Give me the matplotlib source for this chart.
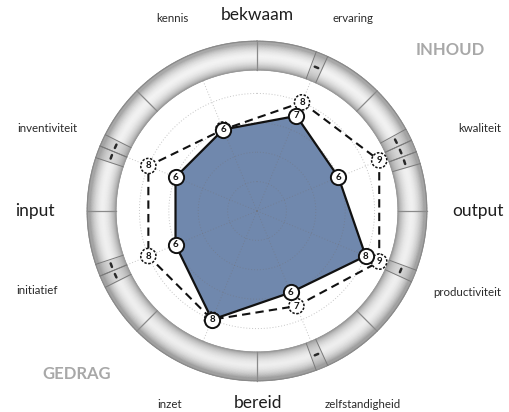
import numpy as np
import matplotlib.pyplot as plt

plt.rcParams["font.family"] = ["Lato", "DejaVu Sans"]

# criteria clockwise, starting just right of the top
criteria = ["ervaring", "kwaliteit", "productiviteit", "zelfstandigheid",
            "inzet", "initiatief", "inventiviteit", "kennis"]
actual = [7, 6, 8, 6, 8, 6, 6, 6]
target = [8, 9, 9, 7, 8, 8, 8, 6]
groups = ["bekwaam", "output", "bereid", "input"]
themes = ["INHOUD", "GEDRAG"]

W, H = 510, 412
fig = plt.figure(figsize=(W / 100, H / 100), dpi=100)

# polar axes centred on the ring (pixel geometry of the reference)
cx, cy, rpx, rmax = 257, 211, 176.4, 12
ax = fig.add_axes([(cx - rpx) / W, (H - cy - rpx) / H, 2 * rpx / W, 2 * rpx / H],
                  projection="polar")
ax.set_theta_zero_location("N")
ax.set_theta_direction(-1)
ax.set_ylim(0, rmax)
ax.axis("off")

n = len(criteria)
angles = np.deg2rad(22.5 + 45 * np.arange(n))
r_in, r_out = 9.6, 11.55

# grid: dotted circles and spokes
full = np.linspace(0, 2 * np.pi, 400)
for lev in [2, 4, 6, 8]:
    ax.plot(full, np.full_like(full, lev), color="#707070", alpha=0.4,
            lw=0.7, ls=(0, (1, 2)), zorder=3)
for a in angles:
    ax.plot([a, a], [0, r_in], color="#707070", alpha=0.4,
            lw=0.7, ls=(0, (1, 2)), zorder=3)

# ring with a tube-like gradient
tt = np.linspace(0, 2 * np.pi, 361)
rr = np.linspace(r_in, r_out, 40)
T, R = np.meshgrid(tt, rr)
f = (R - r_in) / (r_out - r_in)
shade = 0.66 + 0.29 * np.sin(np.pi * np.clip(f * 1.15 - 0.05, 0, 1)) ** 0.8
shade = shade - 0.04 * (1 - np.cos(T)) / 2 * f
ax.pcolormesh(T, R, shade, cmap="gray", vmin=0, vmax=1, shading="gouraud",
              zorder=1, rasterized=True)
for rv, col in [(r_in, "#9a9a9a"), (r_out, "#8a8a8a")]:
    ax.plot(full, np.full_like(full, rv), color=col, lw=0.9, zorder=1.5)
for a in np.deg2rad(np.arange(0, 360, 45)):
    ax.plot([a, a], [r_in, r_out], color="#8a8a8a", lw=0.9, zorder=1.5)

# gap boxes in the ring: one box per point below target
bw = np.deg2rad(4.2)
rmid = (r_in + r_out) / 2
for a, act, tgt in zip(angles, actual, target):
    gap = tgt - act
    start = a - gap * bw / 2
    for j in range(gap):
        a0 = start + j * bw
        seg = np.linspace(a0, a0 + bw, 10)
        ax.fill_between(seg, r_in, r_out, color="#a0a0a0", alpha=0.3, lw=0, zorder=1.6)
        for e in (a0, a0 + bw):
            ax.plot([e, e], [r_in, r_out], color="#7a7a7a", lw=0.7, zorder=1.7)
        am = a0 + bw / 2
        ax.plot([am - 0.012, am + 0.012], [rmid, rmid], color="#2a2a2a",
                lw=1.8, solid_capstyle="round", zorder=1.8)

th = np.append(angles, angles[0])
act_c = np.append(actual, actual[0])
tgt_c = np.append(target, target[0])

ax.fill(th, act_c, color="#7088ad", lw=0, zorder=2)
ax.plot(th, tgt_c, color="#111111", lw=1.5, ls=(0, (4, 2.5)), zorder=4)
ax.plot(th, act_c, color="#111111", lw=1.6, zorder=4.5)

ax.scatter(angles, target, s=120, facecolor="white", edgecolor="#111111",
           linewidths=1.1, linestyle=(0, (1.6, 1)), zorder=5)
for a, v in zip(angles, target):
    ax.text(a, v, str(v), ha="center", va="center", fontsize=7,
            fontweight="bold", color="#111111", zorder=5.5)
ax.scatter(angles, actual, s=120, facecolor="white", edgecolor="#111111",
           linewidths=1.4, zorder=6)
for a, v in zip(angles, actual):
    ax.text(a, v, str(v), ha="center", va="center", fontsize=7,
            fontweight="bold", color="#111111", zorder=6.5)


def put(x, y, s, **kw):
    fig.text(x / W, 1 - y / H, s, ha="center", va="center", **kw)


crit_pos = [(353, 18), (480, 128), (467, 293), (363, 404),
            (170, 404), (37, 291), (47, 129), (172, 18)]
for (x, y), s in zip(crit_pos, criteria):
    put(x, y, s, fontsize=8.3, color="#2a2a2a")

group_pos = [(257, 15), (478, 211), (258, 403), (35, 211)]
for (x, y), s in zip(group_pos, groups):
    put(x, y, s, fontsize=12.5, color="#1e1e1e")

theme_pos = [(450, 50), (77, 374)]
for (x, y), s in zip(theme_pos, themes):
    put(x, y, s, fontsize=12, fontweight="bold", color="#a8a8a8")

fig.savefig("out.png", dpi=100, facecolor="white")
